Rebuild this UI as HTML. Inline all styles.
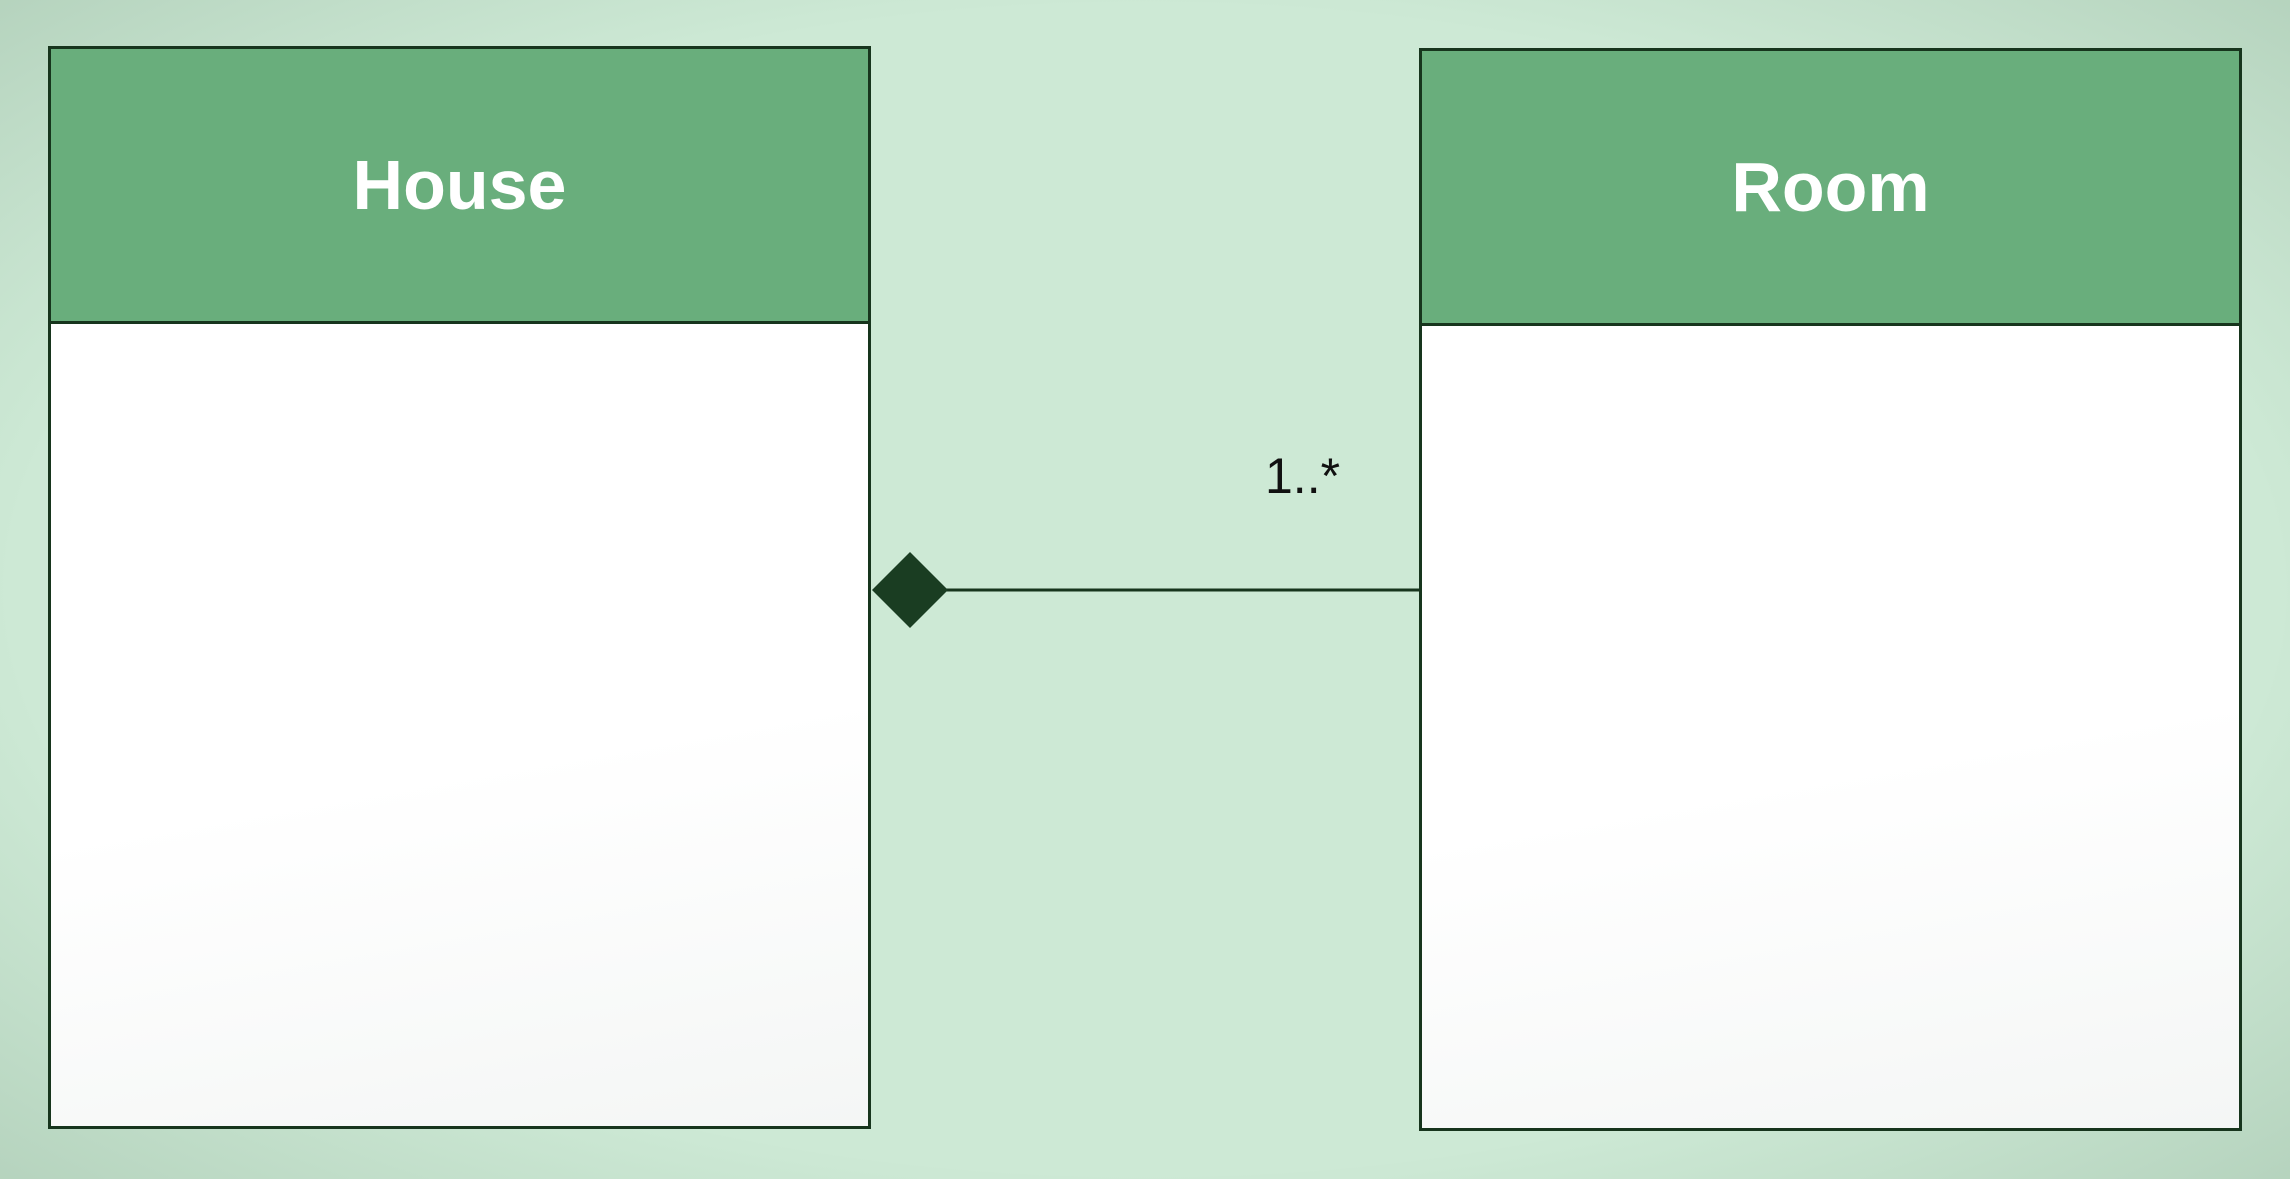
<!DOCTYPE html>
<html><head><meta charset="utf-8"><style>
html,body{margin:0;padding:0}
body{width:2290px;height:1179px;position:relative;overflow:hidden;background:#cde9d5;font-family:"Liberation Sans",sans-serif}
.vig{position:absolute;inset:0;background:radial-gradient(ellipse at center,rgba(0,0,0,0) 70%,rgba(40,80,50,0.14) 100%)}
.box{position:absolute;border:3px solid #17351d;background:linear-gradient(170deg,#fff 65%,#f4f6f5 100%);box-sizing:border-box}
.hdr{position:absolute;left:0;right:0;top:0;background:#69ae7c;border-bottom:3px solid #17351d;color:#fff;font-weight:bold;font-size:70px;display:flex;align-items:center;justify-content:center}
</style></head><body>
<div class="vig"></div>
<div class="box" style="left:48px;top:46px;width:823px;height:1083px">
 <div class="hdr" style="height:272px">House</div>
</div>
<div class="box" style="left:1419px;top:48px;width:823px;height:1083px">
 <div class="hdr" style="height:272px">Room</div>
</div>
<svg width="2290" height="1179" style="position:absolute;left:0;top:0">
 <line x1="946" y1="590" x2="1421" y2="590" stroke="#17351d" stroke-width="3"/>
 <polygon points="872,590 910,552 948,590 910,628" fill="#1a3d22"/>
 <text x="1265" y="493" font-family="Liberation Sans, sans-serif" font-size="50" fill="#111">1..*</text>
</svg>
</body></html>
